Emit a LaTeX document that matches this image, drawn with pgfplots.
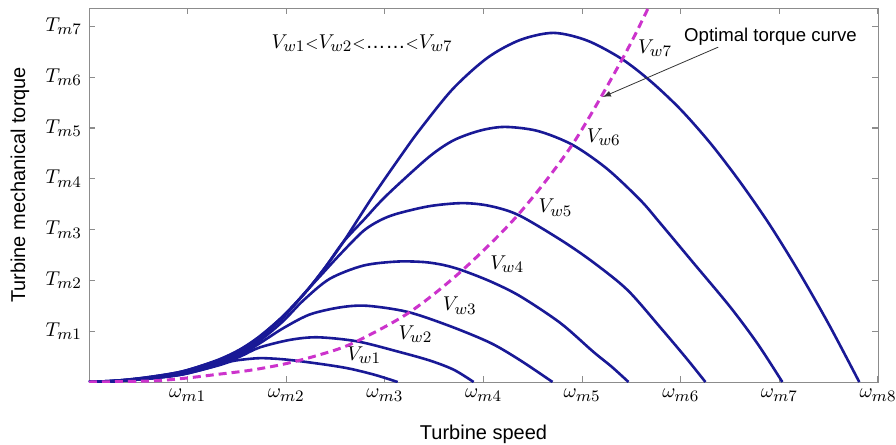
\documentclass[border=0pt]{standalone}
\usepackage{fontspec}
\setmainfont{Liberation Sans}
\usepackage{pgfplots}
\pgfplotsset{compat=1.18}
\definecolor{curveblue}{RGB}{25,25,150}
\definecolor{optmag}{RGB}{204,51,204}
% symbol with a larger subscript, as in the original figure
\newcommand{\lbl}[2]{$#1_{\mbox{\fontsize{8}{9}\selectfont$#2$}}$}
\begin{document}
\begin{tikzpicture}
\begin{axis}[
    scale only axis,
    width=394.5pt, height=187pt,
    xmin=0, xmax=8, ymin=0, ymax=7.36,
    xtick={1,...,8}, ytick={1,...,7},
    xticklabels={\lbl{\omega}{m1},\lbl{\omega}{m2},\lbl{\omega}{m3},\lbl{\omega}{m4},\lbl{\omega}{m5},\lbl{\omega}{m6},\lbl{\omega}{m7},\lbl{\omega}{m8}},
    yticklabels={\lbl{T}{m1},\lbl{T}{m2},\lbl{T}{m3},\lbl{T}{m4},\lbl{T}{m5},\lbl{T}{m6},\lbl{T}{m7}},
    tick label style={font=\fontsize{10}{12}\selectfont},
    axis line style={gray!90},
    tick style={gray!90, line width=0.6pt},
    major tick length=3pt,
    xlabel={Turbine speed},
    ylabel={Turbine mechanical torque},
    label style={font=\fontsize{9.3}{11}\selectfont},
    every axis x label/.style={at={(axis description cs:0.5,-0.139)},anchor=center},
    every axis y label/.style={at={(axis description cs:-0.0875,0.527)},rotate=90,anchor=center},
]
% Vw1
\addplot[curveblue, line width=1.3pt, smooth] coordinates {
    (0,0) (0.3,0.02) (0.62,0.07) (0.95,0.15) (1.3,0.32) (1.45,0.41)
    (1.6,0.45) (1.75,0.47) (1.95,0.45) (2.14,0.41) (2.44,0.33)
    (2.65,0.26) (2.9,0.14) (3.13,0)
};
% Vw2
\addplot[curveblue, line width=1.3pt, smooth] coordinates {
    (0,0) (0.3,0.02) (0.62,0.07) (0.95,0.15) (1.3,0.33) (1.53,0.50)
    (1.73,0.68) (2.04,0.83) (2.32,0.88) (2.72,0.80) (3.15,0.59)
    (3.46,0.42) (3.7,0.24) (3.9,0)
};
% Vw3
\addplot[curveblue, line width=1.3pt, smooth] coordinates {
    (0,0) (0.3,0.02) (0.62,0.07) (0.95,0.16) (1.3,0.35) (1.53,0.53)
    (1.73,0.76) (1.97,1.06) (2.24,1.33) (2.55,1.47) (2.82,1.50)
    (3.23,1.38) (3.66,1.10) (4.07,0.77) (4.37,0.43) (4.70,0)
};
% Vw4
\addplot[curveblue, line width=1.3pt, smooth] coordinates {
    (0,0) (0.3,0.02) (0.62,0.08) (0.95,0.18) (1.3,0.38) (1.53,0.57)
    (1.73,0.81) (1.97,1.20) (2.17,1.60) (2.44,2.03) (2.78,2.29)
    (3.12,2.37) (3.40,2.36) (3.6,2.30) (3.78,2.20) (4.07,1.98)
    (4.37,1.69) (4.78,1.16) (5.11,0.60) (5.30,0.30) (5.47,0)
};
% Vw5
\addplot[curveblue, line width=1.3pt, smooth] coordinates {
    (0,0) (0.3,0.03) (0.62,0.09) (0.95,0.20) (1.3,0.41) (1.53,0.61)
    (1.73,0.86) (1.97,1.27) (2.21,1.80) (2.37,2.14) (2.55,2.52)
    (2.78,2.97) (2.95,3.18) (3.12,3.31) (3.45,3.46) (3.78,3.52)
    (4.05,3.47) (4.35,3.29) (4.78,2.80) (5.11,2.36) (5.46,1.81)
    (5.79,1.08) (6.06,0.46) (6.25,0)
};
% Vw6
\addplot[curveblue, line width=1.3pt, smooth] coordinates {
    (0,0) (0.3,0.03) (0.62,0.10) (0.95,0.21) (1.3,0.42) (1.53,0.63)
    (1.73,0.89) (1.97,1.30) (2.21,1.80) (2.40,2.27) (2.58,2.76)
    (2.80,3.22) (2.95,3.54) (3.12,3.86) (3.46,4.45) (3.7,4.76)
    (3.97,4.95) (4.22,5.02) (4.55,4.94) (4.90,4.67) (5.25,4.20)
    (5.59,3.58) (5.79,3.13) (6.13,2.34) (6.50,1.48) (6.78,0.75) (7.03,0)
};
% Vw7
\addplot[curveblue, line width=1.3pt, smooth] coordinates {
    (0,0) (0.3,0.03) (0.62,0.10) (0.95,0.21) (1.3,0.43) (1.53,0.64)
    (1.73,0.90) (1.97,1.30) (2.21,1.80) (2.40,2.27) (2.58,2.76)
    (2.88,3.66) (3.18,4.50) (3.36,4.98) (3.69,5.77) (4.04,6.38)
    (4.37,6.73) (4.71,6.87) (5.05,6.72) (5.4,6.36) (5.7,5.91)
    (6.0,5.36) (6.3,4.70) (6.6,3.94) (6.9,3.10) (7.2,2.16)
    (7.5,1.14) (7.81,0)
};
% optimal torque curve
\addplot[optmag, line width=1.5pt, dash pattern=on 4pt off 2.5pt, smooth] coordinates {
    (0,0) (0.62,0.02) (0.95,0.07) (1.30,0.15) (1.63,0.23) (1.97,0.35)
    (2.31,0.52) (2.67,0.76) (3.24,1.36) (3.78,2.19) (4.35,3.29)
    (4.9,4.67) (5.42,6.40) (5.70,7.48)
};

\node at (axis cs:2.77,6.67) {\lbl{V}{w1}{\footnotesize$<$}\lbl{V}{w2}{\footnotesize$<$}\ldots\ldots{\footnotesize$<$}\lbl{V}{w7}};
\node at (axis cs:2.79,0.53) {\lbl{V}{w1}};
\node at (axis cs:3.31,0.94) {\lbl{V}{w2}};
\node at (axis cs:3.76,1.50) {\lbl{V}{w3}};
\node at (axis cs:4.24,2.32) {\lbl{V}{w4}};
\node at (axis cs:4.73,3.43) {\lbl{V}{w5}};
\node at (axis cs:5.22,4.82) {\lbl{V}{w6}};
\node at (axis cs:5.74,6.57) {\lbl{V}{w7}};
\node[font=\fontsize{9.3}{11}\selectfont] at (axis cs:6.91,6.79) {Optimal torque curve};
\draw[-latex, gray!40!black, line width=0.4pt] (axis cs:6.38,6.59) -- (axis cs:5.21,5.61);

\coordinate (bl) at (rel axis cs:-0.1128,-0.1684);
\coordinate (tr) at (rel axis cs:1.0228,1.0214);
\end{axis}
\pgfresetboundingbox
\useasboundingbox (bl) rectangle (tr);
\end{tikzpicture}
\end{document}
